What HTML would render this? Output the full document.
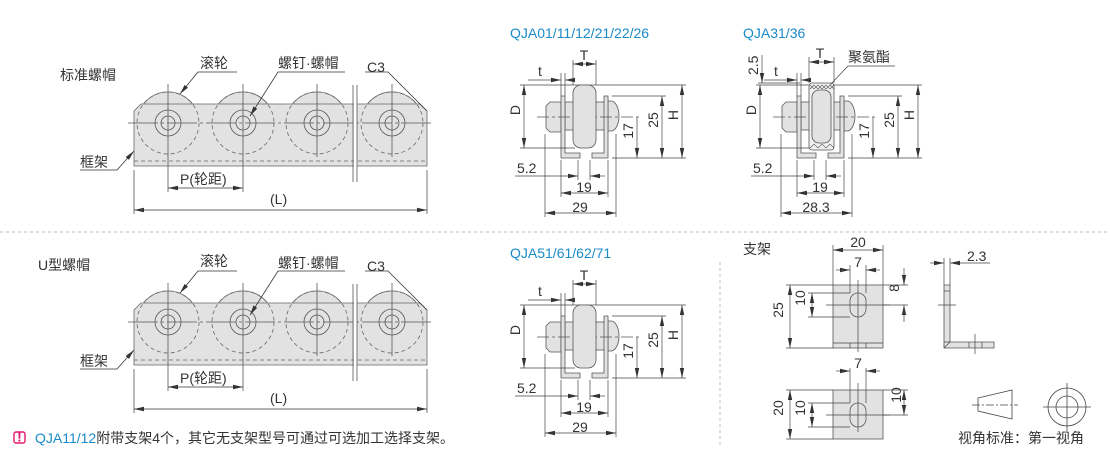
<!DOCTYPE html>
<html><head><meta charset="utf-8"><style>
html,body{margin:0;padding:0;background:#fff;}
svg{display:block;}
text{font-family:"Liberation Sans","Noto Sans CJK SC",sans-serif;fill:#333;font-size:14px;}
.b{fill:#1a8ac9;}
</style></head><body>
<svg width="1110" height="451" viewBox="0 0 1110 451" xmlns="http://www.w3.org/2000/svg">
<defs>
<marker id="a" markerWidth="10" markerHeight="6" refX="10" refY="3" orient="auto-start-reverse" markerUnits="userSpaceOnUse"><path d="M0,0.8 L10,3 L0,5.2z" fill="#333"/></marker>
<g id="roll">
  <g fill="#e2e2e2" stroke="#666" stroke-width="0.8">
    <circle cx="168" cy="123" r="31"/><circle cx="243" cy="123" r="31"/><circle cx="317" cy="123" r="31"/><circle cx="392" cy="123" r="31"/>
    <polygon points="134,111 141,104 420,104 427,111 427,166 134,166"/>
  </g>
  <g fill="none" stroke="#666" stroke-width="0.8" stroke-dasharray="4,3">
    <circle cx="168" cy="123" r="31"/><circle cx="243" cy="123" r="31"/><circle cx="317" cy="123" r="31"/><circle cx="392" cy="123" r="31"/>
    <line x1="134" y1="161" x2="427" y2="161"/>
  </g>
  <g fill="none" stroke="#555" stroke-width="0.8">
    <circle cx="168" cy="123" r="13"/><circle cx="243" cy="123" r="13"/><circle cx="317" cy="123" r="13"/><circle cx="392" cy="123" r="13"/>
    <circle cx="168" cy="123" r="7"/><circle cx="243" cy="123" r="7"/><circle cx="317" cy="123" r="7"/><circle cx="392" cy="123" r="7"/>
    <line x1="128" y1="123" x2="432" y2="123" stroke-dasharray="30,3,3,3"/>
    <line x1="168" y1="84" x2="168" y2="192"/><line x1="243" y1="84" x2="243" y2="192"/>
    <line x1="317" y1="84" x2="317" y2="157"/><line x1="392" y1="84" x2="392" y2="157"/>
    <line x1="134" y1="170" x2="134" y2="214"/><line x1="427" y1="170" x2="427" y2="214"/>
  </g>
  <rect x="354" y="100" width="3" height="70" fill="#fff"/>
  <g stroke="#555" stroke-width="0.8"><line x1="353" y1="85" x2="353" y2="182"/><line x1="357" y1="85" x2="357" y2="182"/></g>
  <g stroke="#333" stroke-width="0.8" fill="none">
    <line x1="168" y1="188" x2="243" y2="188" marker-start="url(#a)" marker-end="url(#a)"/>
    <line x1="134" y1="210" x2="427" y2="210" marker-start="url(#a)" marker-end="url(#a)"/>
    <polyline points="237,72 198,72 180,94" marker-end="url(#a)"/>
    <polyline points="345,72 278,72 250,116" marker-end="url(#a)"/>
    <polyline points="365,72 388,72 427,111"/>
    <polyline points="80,170 117,170 134,151" marker-end="url(#a)"/>
  </g>
</g>
<g id="sec">
  <g fill="#e2e2e2" stroke="#555" stroke-width="0.8">
    <rect x="565" y="102" width="43" height="28"/>
    <path d="M608,101 h3 a8,15 0 0 1 0,30 h-3z"/>
    <polygon points="546,106 550,102 561,102 561,132 550,132 546,128"/>
    <path d="M561,96 h4 v57 h15 v5 h-19z"/>
    <path d="M608,96 h-4 v57 h-12 v5 h16z"/>
  </g>
  <line x1="537" y1="117" x2="640" y2="117" stroke="#555" stroke-width="0.8" stroke-dasharray="12,3,3,3"/>
  <g stroke="#444" stroke-width="0.7" fill="none">
    <line x1="520" y1="85" x2="686" y2="85"/><line x1="612" y1="96" x2="666" y2="96"/>
    <line x1="520" y1="148" x2="575" y2="148"/><line x1="612" y1="158" x2="686" y2="158"/>
    <line x1="524" y1="85" x2="524" y2="148" marker-start="url(#a)" marker-end="url(#a)"/>
    <line x1="682" y1="85" x2="682" y2="158" marker-start="url(#a)" marker-end="url(#a)"/>
    <line x1="662" y1="96" x2="662" y2="158" marker-start="url(#a)" marker-end="url(#a)"/>
    <line x1="637" y1="117" x2="637" y2="158" marker-end="url(#a)"/>
    <line x1="561" y1="73" x2="561" y2="96"/><line x1="565" y1="73" x2="565" y2="96"/>
    <line x1="528" y1="80" x2="561" y2="80" marker-end="url(#a)"/><line x1="565" y1="80" x2="575" y2="80" marker-start="url(#a)"/>
    <line x1="561" y1="160" x2="561" y2="197"/><line x1="608" y1="160" x2="608" y2="197"/>
    <line x1="545" y1="134" x2="545" y2="217"/><line x1="616" y1="134" x2="616" y2="217"/>
    <line x1="578" y1="160" x2="578" y2="180"/><line x1="590" y1="160" x2="590" y2="180"/>
    <line x1="515" y1="176" x2="578" y2="176" marker-end="url(#a)"/><line x1="590" y1="176" x2="605" y2="176" marker-start="url(#a)"/>
    <line x1="561" y1="193" x2="608" y2="193" marker-start="url(#a)" marker-end="url(#a)"/>
    <line x1="545" y1="213" x2="616" y2="213" marker-start="url(#a)" marker-end="url(#a)"/>
  </g>
  <g font-size="14">
  <text x="527" y="117" transform="rotate(-90 520 117)" text-anchor="middle">D</text>
  <text x="685" y="122" transform="rotate(-90 678 122)" text-anchor="middle">H</text>
  <text x="665" y="127" transform="rotate(-90 658 127)" text-anchor="middle">25</text>
  <text x="640" y="138" transform="rotate(-90 633 138)" text-anchor="middle">17</text>
  <text x="517" y="173">5.2</text>
  <text x="584" y="192" text-anchor="middle">19</text>
  <text x="538" y="76">t</text>
  </g>
</g>
</defs>

<line x1="0" y1="232" x2="1110" y2="232" stroke="#bbb" stroke-dasharray="3,3"/>
<line x1="720" y1="262" x2="720" y2="448" stroke="#bbb" stroke-dasharray="3,3"/>

<use href="#roll"/>
<use href="#roll" transform="translate(0,199)"/>
<text x="60" y="80">标准螺帽</text>
<text x="200" y="68">滚轮</text>
<text x="278" y="68">螺钉·螺帽</text>
<text x="367" y="72">C3</text>
<text x="80" y="167">框架</text>
<text x="180" y="184">P(轮距)</text>
<text x="270" y="204">(L)</text>
<text x="38" y="270">U型螺帽</text>
<text x="200" y="266">滚轮</text>
<text x="278" y="268">螺钉·螺帽</text>
<text x="367" y="271">C3</text>
<text x="80" y="366">框架</text>
<text x="180" y="383">P(轮距)</text>
<text x="270" y="403">(L)</text>

<text class="b" x="510" y="38">QJA01/11/12/21/22/26</text>
<use href="#sec"/>
<text x="580" y="212" text-anchor="middle">29</text>
<rect x="573" y="85" width="23" height="63" rx="8" fill="#e2e2e2" stroke="#555" stroke-width="0.8"/>
<g stroke="#444" stroke-width="0.7"><line x1="573" y1="60" x2="573" y2="85"/><line x1="596" y1="60" x2="596" y2="85"/><line x1="573" y1="64" x2="596" y2="64" marker-start="url(#a)" marker-end="url(#a)"/></g>
<text x="584" y="60" text-anchor="middle">T</text>

<text class="b" x="743" y="38">QJA31/36</text>
<use href="#sec" transform="translate(236,0)"/>
<text x="816" y="212" text-anchor="middle">28.3</text>
<rect x="809" y="83" width="25" height="67" rx="3" fill="#f0f0f0" stroke="#555" stroke-width="0.8"/>
<path d="M810,85 l4,4 4,-4 4,4 4,-4 4,4 4,-4 M810,89 l4,-4 4,4 4,-4 4,4 4,-4 4,4 M810,148 l4,-4 4,4 4,-4 4,4 4,-4 4,4" stroke="#555" stroke-width="0.6" fill="none"/>
<rect x="812" y="90" width="19" height="53" rx="7" fill="#e2e2e2" stroke="#555" stroke-width="0.8"/>
<g stroke="#444" stroke-width="0.7"><line x1="809" y1="57" x2="809" y2="83"/><line x1="834" y1="57" x2="834" y2="83"/><line x1="809" y1="62" x2="834" y2="62" marker-start="url(#a)" marker-end="url(#a)"/>
<line x1="758" y1="83" x2="800" y2="83"/><line x1="762" y1="55" x2="762" y2="83" marker-end="url(#a)"/>
<polyline points="895,66 848,66 830,85" fill="none"/></g>
<text x="820" y="58" text-anchor="middle">T</text>
<text x="848" y="62">聚氨酯</text>
<text x="758" y="75" transform="rotate(-90 758 75)" font-size="13">2.5</text>

<text class="b" x="510" y="258">QJA51/61/62/71</text>
<use href="#sec" transform="translate(0,220)"/>
<text x="580" y="432" text-anchor="middle">29</text>
<rect x="573" y="305" width="23" height="63" rx="8" fill="#e2e2e2" stroke="#555" stroke-width="0.8"/>
<g stroke="#444" stroke-width="0.7"><line x1="573" y1="280" x2="573" y2="305"/><line x1="596" y1="280" x2="596" y2="305"/><line x1="573" y1="284" x2="596" y2="284" marker-start="url(#a)" marker-end="url(#a)"/></g>
<text x="584" y="280" text-anchor="middle">T</text>

<text x="743" y="254">支架</text>
<g fill="#e2e2e2" stroke="#555" stroke-width="0.8">
  <rect x="833" y="285" width="50" height="63"/>
  <rect x="850" y="293" width="16" height="24" rx="8"/>
  <path d="M944,285 h6 v57 h44 v6 h-50z"/>
  <rect x="833" y="390" width="50" height="49"/>
  <rect x="850" y="403" width="16" height="24" rx="8"/>
</g>
<g stroke="#444" stroke-width="0.7" fill="none">
  <line x1="833" y1="343" x2="883" y2="343"/><line x1="850" y1="343" x2="850" y2="348"/><line x1="866" y1="343" x2="866" y2="348"/>
  <line x1="944" y1="342" x2="950" y2="342"/><line x1="944" y1="291" x2="950" y2="291"/><line x1="944" y1="348" x2="950" y2="342"/>
  <line x1="969" y1="342" x2="969" y2="348"/><line x1="982" y1="342" x2="982" y2="348"/>
  <line x1="858" y1="280" x2="858" y2="352"/><line x1="826" y1="305" x2="890" y2="305"/>
  <line x1="938" y1="305" x2="956" y2="305"/><line x1="975" y1="334" x2="975" y2="354"/>
  <line x1="858" y1="383" x2="858" y2="432"/><line x1="826" y1="415" x2="890" y2="415"/>
  <line x1="833" y1="245" x2="833" y2="285"/><line x1="883" y1="245" x2="883" y2="285"/>
  <line x1="833" y1="250" x2="883" y2="250" marker-start="url(#a)" marker-end="url(#a)"/>
  <line x1="850" y1="265" x2="850" y2="293"/><line x1="866" y1="265" x2="866" y2="293"/>
  <line x1="836" y1="270" x2="850" y2="270" marker-end="url(#a)"/><line x1="866" y1="270" x2="880" y2="270" marker-start="url(#a)"/>
  <line x1="786" y1="285" x2="833" y2="285"/><line x1="786" y1="348" x2="833" y2="348"/>
  <line x1="790" y1="285" x2="790" y2="348" marker-start="url(#a)" marker-end="url(#a)"/>
  <line x1="808" y1="293" x2="850" y2="293"/><line x1="808" y1="317" x2="850" y2="317"/>
  <line x1="812" y1="293" x2="812" y2="317" marker-start="url(#a)" marker-end="url(#a)"/>
  <line x1="883" y1="285" x2="908" y2="285"/><line x1="883" y1="305" x2="908" y2="305"/>
  <line x1="904" y1="268" x2="904" y2="285" marker-end="url(#a)"/><line x1="904" y1="305" x2="904" y2="322" marker-start="url(#a)"/>
  <line x1="944" y1="258" x2="944" y2="285"/><line x1="950" y1="258" x2="950" y2="285"/>
  <line x1="930" y1="263" x2="944" y2="263" marker-end="url(#a)"/><line x1="990" y1="263" x2="950" y2="263" marker-end="url(#a)"/>
  <line x1="850" y1="368" x2="850" y2="403"/><line x1="866" y1="368" x2="866" y2="403"/>
  <line x1="836" y1="371" x2="850" y2="371" marker-end="url(#a)"/><line x1="866" y1="371" x2="880" y2="371" marker-start="url(#a)"/>
  <line x1="786" y1="390" x2="833" y2="390"/><line x1="786" y1="439" x2="833" y2="439"/>
  <line x1="790" y1="390" x2="790" y2="439" marker-start="url(#a)" marker-end="url(#a)"/>
  <line x1="808" y1="403" x2="850" y2="403"/><line x1="808" y1="427" x2="850" y2="427"/>
  <line x1="812" y1="403" x2="812" y2="427" marker-start="url(#a)" marker-end="url(#a)"/>
  <line x1="883" y1="390" x2="908" y2="390"/><line x1="883" y1="415" x2="908" y2="415"/>
  <line x1="904" y1="390" x2="904" y2="415" marker-start="url(#a)" marker-end="url(#a)"/>
</g>
<g font-size="14">
<text x="858" y="247" text-anchor="middle">20</text>
<text x="858" y="267" text-anchor="middle">7</text>
<text x="790" y="317" transform="rotate(-90 783 317)" text-anchor="middle">25</text>
<text x="812" y="305" transform="rotate(-90 805 305)" text-anchor="middle">10</text>
<text x="906" y="295" transform="rotate(-90 899 295)" text-anchor="middle">8</text>
<text x="967" y="261">2.3</text>
<text x="858" y="368" text-anchor="middle">7</text>
<text x="790" y="415" transform="rotate(-90 783 415)" text-anchor="middle">20</text>
<text x="812" y="415" transform="rotate(-90 805 415)" text-anchor="middle">10</text>
<text x="908" y="402" transform="rotate(-90 901 402)" text-anchor="middle">10</text>
</g>

<g stroke="#444" stroke-width="0.8" fill="none">
  <polygon points="978,398 1012,390 1012,419 978,411"/>
  <line x1="972" y1="405" x2="1018" y2="405" stroke-dasharray="8,2,2,2"/>
  <circle cx="1067" cy="407" r="19"/><circle cx="1067" cy="407" r="11"/>
  <line x1="1043" y1="407" x2="1091" y2="407"/><line x1="1067" y1="383" x2="1067" y2="431"/>
</g>
<text x="958" y="443">视角标准：第一视角</text>

<rect x="14" y="432" width="11" height="11" rx="2" fill="none" stroke="#e0196e" stroke-width="1.4"/>
<text x="19.5" y="441.5" text-anchor="middle" font-size="10" font-weight="bold" style="fill:#e0196e">!</text>
<text x="35" y="443"><tspan class="b">QJA11/12</tspan>附带支架4个，其它无支架型号可通过可选加工选择支架。</text>
</svg>
</body></html>
